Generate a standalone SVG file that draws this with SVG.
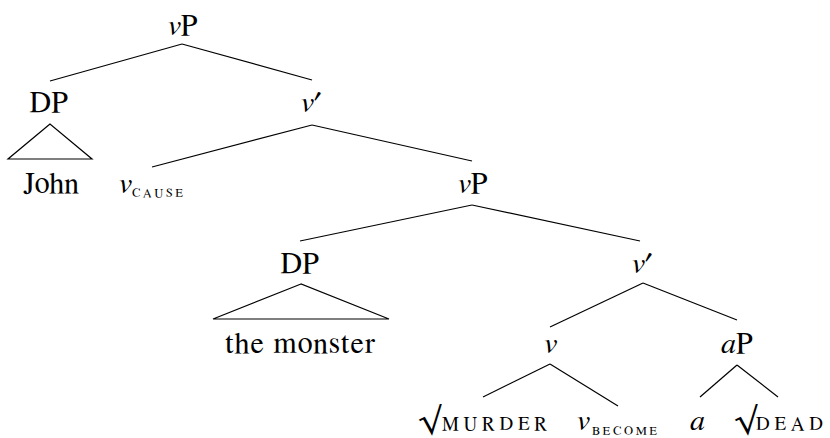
<svg xmlns="http://www.w3.org/2000/svg" width="830" height="438" viewBox="0 0 830 438">
<style>
.t{font-family:FreeSerif,'Liberation Serif','DejaVu Serif',serif;fill:#000;font-size:30px}
.i{font-style:italic}
.sc{font-size:19px}
.sub{font-size:12.5px}
.rad{font-size:35px}
.e line,.e polygon{stroke:#000;stroke-width:1.2;fill:none}
</style>
<rect width="830" height="438" fill="#fff"/>
<g class="e" id="edges">
<line x1="182" y1="44" x2="50" y2="81"/>
<line x1="182" y1="44" x2="312" y2="80"/>
<polygon points="50,124 8,159 92,159"/>
<line x1="312" y1="125" x2="152" y2="167"/>
<line x1="312" y1="125" x2="472" y2="161"/>
<line x1="472" y1="205" x2="300" y2="241"/>
<line x1="472" y1="205" x2="640" y2="241"/>
<polygon points="301,284 213,319 389,319"/>
<line x1="643" y1="283" x2="550" y2="327"/>
<line x1="643" y1="283" x2="737" y2="320"/>
<line x1="550" y1="364" x2="483" y2="397"/>
<line x1="550" y1="364" x2="618" y2="406"/>
<line x1="737" y1="365" x2="700" y2="397"/>
<line x1="737" y1="365" x2="778" y2="397"/>
</g>
<g class="t">
<g id="n-vP1"><text x="167" y="35"><tspan class="i">v</tspan>P</text></g>
<g id="n-DP1"><text x="49" y="112" text-anchor="middle">DP</text></g>
<g id="n-John"><text x="51" y="193" text-anchor="middle">John</text></g>
<g id="n-vbar1"><text x="300" y="112"><tspan class="i">v</tspan>′</text></g>
<g id="n-vcause"><text x="118" y="193" class="i">v</text><text x="132" y="197" class="sub" textLength="51">CAUSE</text></g>
<g id="n-vP2"><text x="457" y="193"><tspan class="i">v</tspan>P</text></g>
<g id="n-DP2"><text x="300" y="273" text-anchor="middle">DP</text></g>
<g id="n-monster"><text x="300" y="353" text-anchor="middle" textLength="150">the monster</text></g>
<g id="n-vbar2"><text x="631" y="273"><tspan class="i">v</tspan>′</text></g>
<g id="n-v"><text x="550" y="353" text-anchor="middle" class="i">v</text></g>
<g id="n-aP"><text x="721" y="353"><tspan class="i">a</tspan>P</text></g>
<g id="n-murder"><text x="418" y="430" class="rad">√</text><text x="442" y="430" class="sc" textLength="105">MURDER</text></g>
<g id="n-vbecome"><text x="576" y="430" class="i">v</text><text x="592" y="435" class="sub" textLength="65">BECOME</text></g>
<g id="n-a"><text x="690" y="430" class="i">a</text></g>
<g id="n-dead"><text x="734" y="430" class="rad">√</text><text x="756" y="430" class="sc" textLength="67">DEAD</text></g>
</g>
</svg>
